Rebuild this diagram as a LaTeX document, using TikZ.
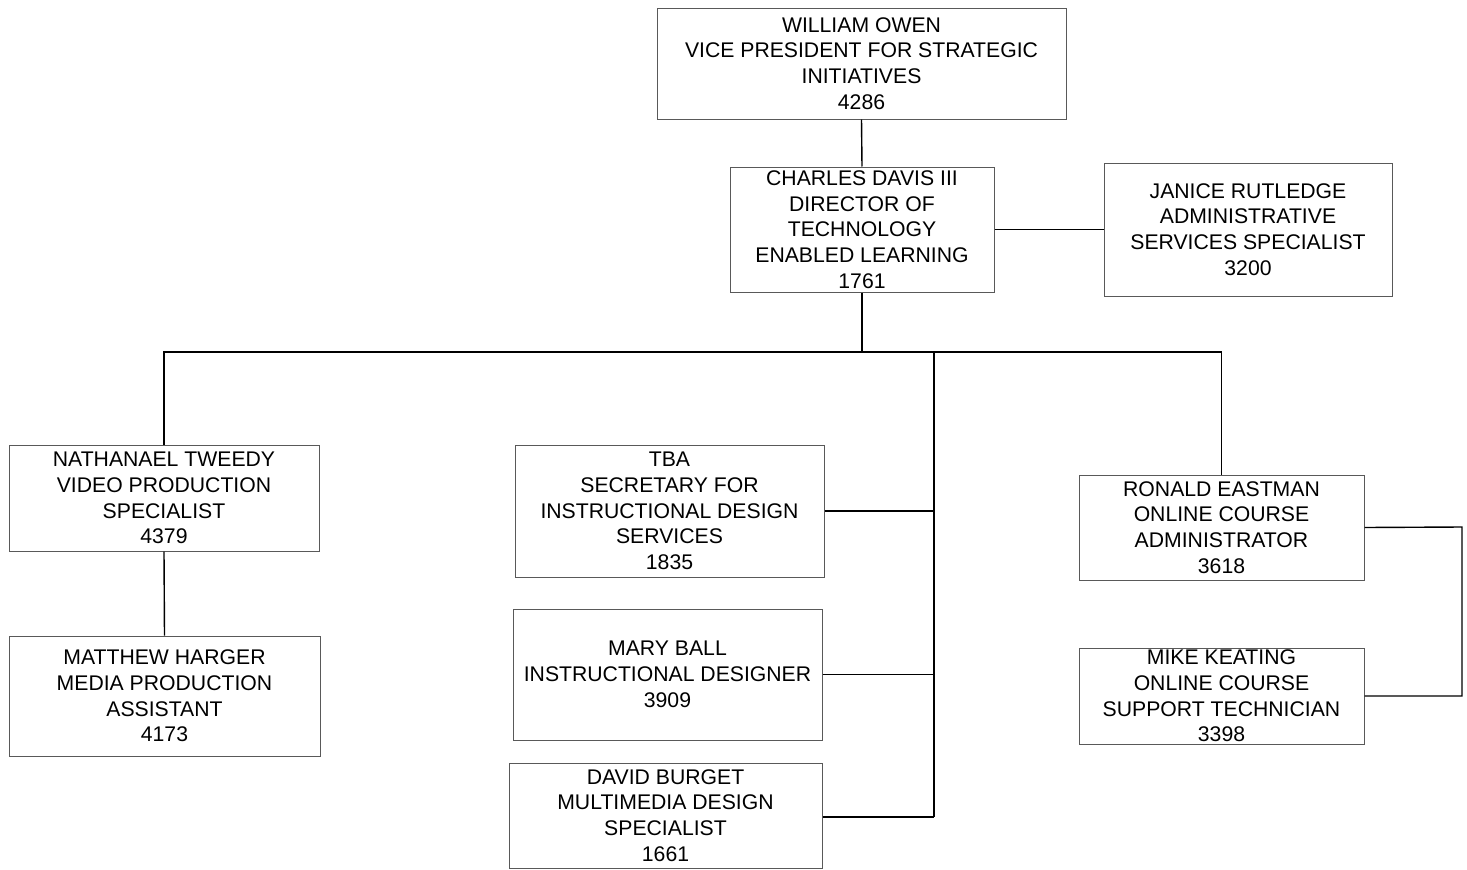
\documentclass[tikz,border=0pt]{standalone}
\usepackage{fontspec}
\setmainfont{Liberation Sans}
\begin{document}
\begin{tikzpicture}[x=1pt,y=-1pt,
  box/.style={draw=black!65,line width=1pt,inner sep=0pt,align=center,
    font=\fontsize{21.2}{25.7}\selectfont,text=black},
  conn/.style={draw=black,line width=1.4pt}]
\useasboundingbox (0,0) rectangle (1467,870);
\node[box,minimum width=409pt,minimum height=111pt] (owen) at (861.5,63.5)
  {WILLIAM OWEN\\VICE PRESIDENT FOR STRATEGIC\\INITIATIVES\\4286};
\node[box,minimum width=264pt,minimum height=125pt] (davis) at (862,229.5)
  {CHARLES DAVIS III\\DIRECTOR OF\\TECHNOLOGY\\ENABLED LEARNING\\1761};
\node[box,minimum width=288pt,minimum height=133pt] (janice) at (1248,229.5)
  {JANICE RUTLEDGE\\ADMINISTRATIVE\\SERVICES SPECIALIST\\3200};
\node[box,minimum width=310pt,minimum height=106pt] (nath) at (164,498)
  {NATHANAEL TWEEDY\\VIDEO PRODUCTION\\SPECIALIST\\4379};
\node[box,minimum width=311pt,minimum height=120pt] (matt) at (164.5,696)
  {MATTHEW HARGER\\MEDIA PRODUCTION\\ASSISTANT\\4173};
\node[box,minimum width=309pt,minimum height=132pt] (tba) at (669.5,511)
  {TBA\\SECRETARY FOR\\INSTRUCTIONAL DESIGN\\SERVICES\\1835};
\node[box,minimum width=309pt,minimum height=131pt] (mary) at (667.5,674.5)
  {MARY BALL\\INSTRUCTIONAL DESIGNER\\3909};
\node[box,minimum width=313pt,minimum height=105pt] (david) at (665.5,815.5)
  {DAVID BURGET\\MULTIMEDIA DESIGN\\SPECIALIST\\1661};
\node[box,minimum width=285pt,minimum height=105pt] (ron) at (1221.5,527.5)
  {RONALD EASTMAN\\ONLINE COURSE\\ADMINISTRATOR\\3618};
\node[box,minimum width=285pt,minimum height=96pt] (mike) at (1221.5,696)
  {MIKE KEATING\\ONLINE COURSE\\SUPPORT TECHNICIAN\\3398};
\coordinate (bus) at (862,352);
\coordinate (vbus) at (934,352);
\coordinate (vend) at (934,817);
\coordinate (rr) at (1462,527);
\draw[conn] (owen.south) -- (davis.north);
\draw[conn] (davis.east) -- (janice.west);
\draw[conn] (davis.south) -- (bus);
\draw[conn] (nath.north) |- (bus) -| (ron.north);
\draw[conn] (vbus) -- (vend);
\draw[conn] (tba.east) -- (tba.east -| vbus);
\draw[conn] (mary.east) -- (mary.east -| vbus);
\draw[conn] (david.east |- vend) -- (vend);
\draw[conn] (nath.south) -- (matt.north);
\draw[conn] (ron.east) -- (rr) |- (mike.east);
\end{tikzpicture}
\end{document}
